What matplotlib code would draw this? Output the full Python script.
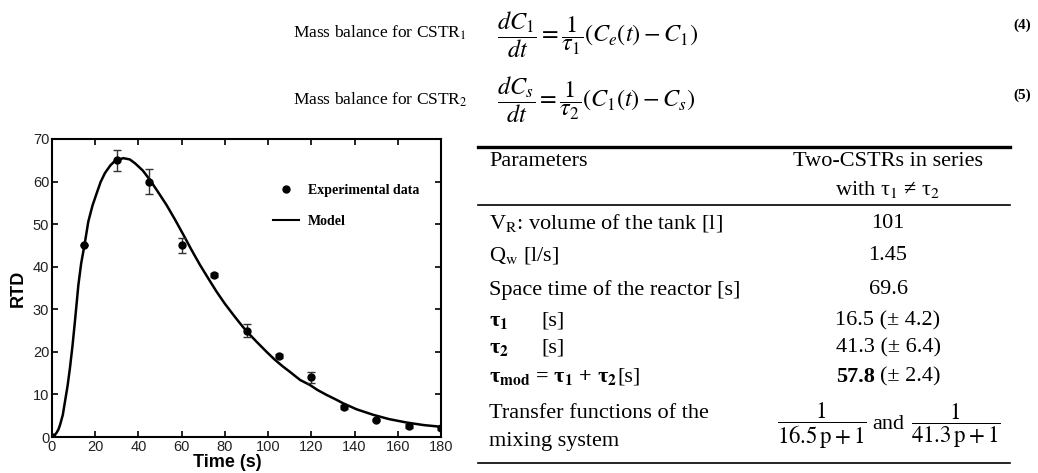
import matplotlib
matplotlib.use("Agg")
import matplotlib.pyplot as plt
from matplotlib.lines import Line2D

plt.rcParams['mathtext.fontset'] = 'stix'

# ---------------- data ----------------
time_exp = [0, 15, 30, 45, 60, 75, 90, 105, 120, 135, 150, 165, 180]
rtd_exp = [0, 45, 65, 60, 45, 38, 25, 19, 14, 7, 4, 2.5, 2]
rtd_err = [0, 0, 2.5, 3, 1.7, 0.5, 1.5, 0.5, 1.2, 0.5, 0.3, 0.5, 0.3]

time_model = [0, 1, 2, 3, 3.7, 5, 6, 7.2, 8.3, 9.5, 10.6, 12.2, 13.5, 15, 16.8, 18.7, 20.7,
              22.5, 24.5, 27, 29.2, 33, 36, 38.4, 42, 45.3, 49, 53, 57, 60.8, 64.5,
              68.5, 72.5, 76.2, 80, 83.9, 87, 90.1, 95, 99.3, 103, 107, 110.1, 114.8,
              119.4, 123, 127, 131, 134.8, 141, 148.7, 156, 164.1, 172, 180]
rtd_model = [0, 0.4, 0.9, 1.8, 2.8, 5.2, 8.3, 12.0, 16.2, 21.5, 27.1, 35.7, 40.8, 45, 50.6,
             54.3, 57.3, 59.9, 62, 63.8, 64.9, 65.5, 65.2, 64.3, 62.6, 60.4, 57.6, 54.5,
             51, 47.5, 44, 40.4, 37.1, 34.1, 31.3, 28.7, 26.7, 24.8, 22.2, 20, 18.2,
             16.5, 15.3, 13.4, 12.2, 11.0, 9.9, 8.9, 7.9, 6.5, 5.2, 4.2, 3.4, 2.8, 2.4]

x_ticks = [0, 20, 40, 60, 80, 100, 120, 140, 160, 180]
y_ticks = [0, 10, 20, 30, 40, 50, 60, 70]

table_params = ["V$_\\mathrm{R}$: volume of the tank [l]", "Q$_\\mathrm{w}$ [l/s]",
                "Space time of the reactor [s]"]
table_values = ["101", "1.45", "69.6"]
tau_values = ["16.5 (± 4.2)", "41.3 (± 6.4)"]
tau_mod_value = "57.8"
tau_mod_err = "(± 2.4)"
tf_tau = ["16.5", "41.3"]

W, H = 1038, 473
fig = plt.figure(figsize=(W / 100, H / 100), dpi=100)

def P(x, y):
    return (x / W, 1 - y / H)

SERIF = ['Liberation Serif', 'DejaVu Serif']
SANS = ['Liberation Sans', 'DejaVu Sans']

# ---------------- plot ----------------
ax = fig.add_axes([52 / W, 1 - 437 / H, 389 / W, 298 / H])
ax.plot(time_model, rtd_model, color='black', lw=1.8, zorder=2, label='Model')
ax.errorbar(time_exp, rtd_exp, yerr=rtd_err, fmt='none', ecolor='#333333',
            elinewidth=1.0, capsize=3, capthick=1.0, zorder=3)
ax.plot(time_exp, rtd_exp, 'o', color='black', ms=5, zorder=4)

ax.set_xlim(0, 180)
ax.set_ylim(0, 70)
ax.set_xticks(x_ticks)
ax.set_yticks(y_ticks)
ax.tick_params(direction='in', length=4, width=1.2, top=True, right=True,
               labelsize=10.5, pad=2, colors='black', labelcolor='#222222')
for lab in ax.get_xticklabels() + ax.get_yticklabels():
    lab.set_family(SANS)
for s in ax.spines.values():
    s.set_linewidth(1.5)

ax.set_xlabel('Time (s)', fontsize=13, fontweight='bold', family=SANS)
ax.set_ylabel('RTD', fontsize=13, fontweight='bold', family=SANS)
ax.xaxis.set_label_coords(0.45, -0.058)
ax.yaxis.set_label_coords(-0.064, 0.5)

# legend
h_exp = Line2D([], [], marker='o', ls='none', color='black', ms=5)
h_mod = Line2D([], [], color='black', lw=1.5)
ax.legend([h_exp, h_mod], ['Experimental data', 'Model'], frameon=False,
          loc='upper left', bbox_to_anchor=P(266, 177), bbox_transform=fig.transFigure,
          prop={'family': SERIF, 'weight': 'bold', 'size': 10},
          handlelength=1.9, handletextpad=0.6, labelspacing=1.3, borderpad=0)

# ---------------- equations ----------------
eq_fs = 12.5
fig.text(*P(293, 33), 'Mass balance for CSTR$_1$', fontsize=eq_fs, family=SERIF, va='center')
fig.text(*P(497, 35), r'$\dfrac{dC_1}{dt} = \dfrac{1}{\tau_1}\left(C_e(t) - C_1\right)$',
         fontsize=17.5, va='center')
fig.text(*P(1013, 25), '(4)', fontsize=11, family=SERIF, fontweight='bold', va='center')

fig.text(*P(293, 100), 'Mass balance for CSTR$_2$', fontsize=eq_fs, family=SERIF, va='center')
fig.text(*P(497, 100), r'$\dfrac{dC_s}{dt} = \dfrac{1}{\tau_2}\left(C_1(t) - C_s\right)$',
         fontsize=17.5, va='center')
fig.text(*P(1013, 95), '(5)', fontsize=11, family=SERIF, fontweight='bold', va='center')

# ---------------- table ----------------
tfs = 16
xl, xc = 489, 888
x0, x1 = 478, 1010

def hline(y, lw):
    fig.add_artist(Line2D([x0 / W, x1 / W], [1 - y / H, 1 - y / H],
                          transform=fig.transFigure, color='black', lw=lw))

hline(147, 2.4)
hline(205, 1.2)
hline(463, 1.2)

fig.text(*P(xl, 162), 'Parameters', fontsize=tfs, family=SERIF, va='center')
fig.text(*P(xc, 162), 'Two-CSTRs in series', fontsize=tfs, family=SERIF, va='center', ha='center')
fig.text(*P(xc, 190), 'with τ$_1$ ≠ τ$_2$', fontsize=tfs, family=SERIF, va='center', ha='center')

rows_y = [223, 256, 290]
for y, p, v in zip(rows_y, table_params, table_values):
    fig.text(*P(xl, y), p, fontsize=tfs, family=SERIF, va='center')
    fig.text(*P(xc, y), v, fontsize=tfs, family=SERIF, va='center', ha='center')

for i, (y, v) in enumerate(zip([321, 348], tau_values)):
    fig.text(*P(xl, y), 'τ$_\\mathbf{%d}$' % (i + 1), fontsize=tfs, family=SERIF,
             fontweight='bold', va='center')
    fig.text(*P(541, y), '[s]', fontsize=tfs, family=SERIF, va='center')
    fig.text(*P(xc, y), v, fontsize=tfs, family=SERIF, va='center', ha='center')

fig.text(*P(xl, 377), r'τ$_\mathbf{mod}$ = τ$_\mathbf{1}$ + τ$_\mathbf{2}$',
         fontsize=tfs, family=SERIF, fontweight='bold', va='center')
fig.text(*P(617, 377), '[s]', fontsize=tfs, family=SERIF, va='center')
fig.text(*P(875, 377), tau_mod_value, fontsize=tfs, family=SERIF, fontweight='bold',
         va='center', ha='right')
fig.text(*P(880, 377), tau_mod_err, fontsize=tfs, family=SERIF, va='center', ha='left')

fig.text(*P(xl, 413), 'Transfer functions of the', fontsize=tfs, family=SERIF, va='center')
fig.text(*P(xl, 441), 'mixing system', fontsize=tfs, family=SERIF, va='center')
fig.text(*P(822, 426), r'$\dfrac{1}{%s\,\mathrm{p}+1}$' % tf_tau[0], fontsize=16.5,
         va='center', ha='center')
fig.text(*P(888, 424), 'and', fontsize=tfs, family=SERIF, va='center', ha='center')
fig.text(*P(956, 426), r'$\dfrac{1}{%s\,\mathrm{p}+1}$' % tf_tau[1], fontsize=16.5,
         va='center', ha='center')

fig.savefig('out.png', dpi=100)
